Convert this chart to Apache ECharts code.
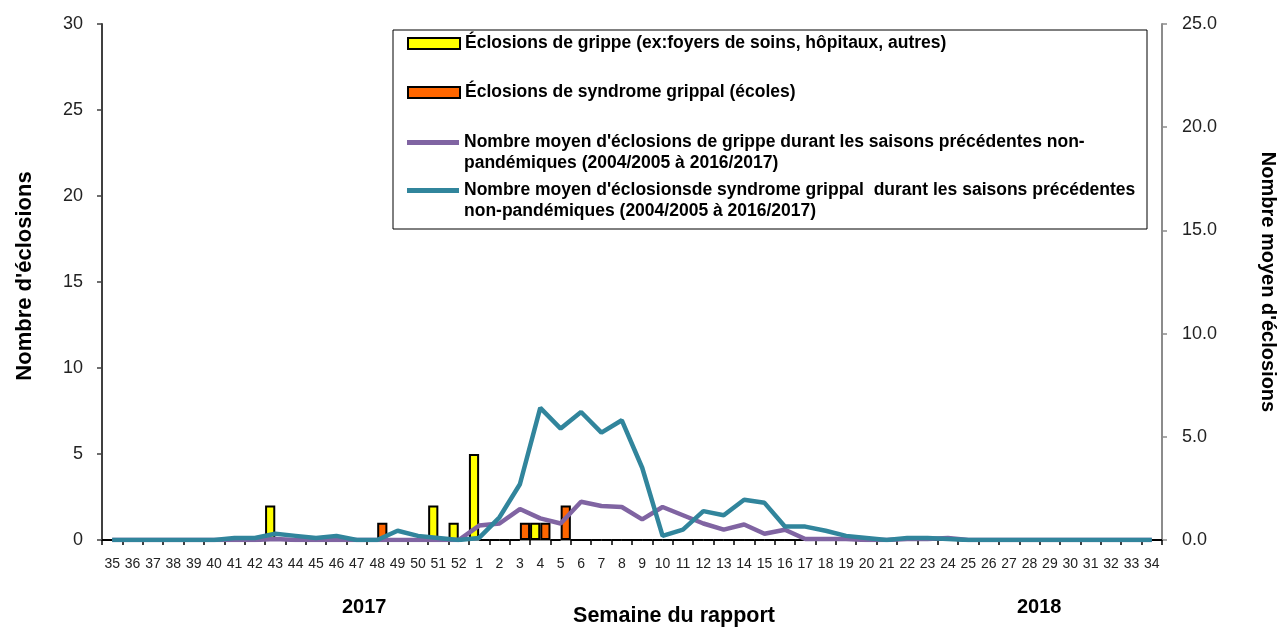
<!DOCTYPE html>
<html>
<head>
<meta charset="utf-8">
<script src="https://cdn.jsdelivr.net/npm/echarts@6/dist/echarts.min.js"></script>
<style>
html,body{margin:0;padding:0;background:#fff;}
#c{width:1283px;height:631px;}
</style>
</head>
<body>
<div id="c"></div>
<script>
var weeks = ['35','36','37','38','39','40','41','42','43','44','45','46','47','48','49','50','51','52',
  '1','2','3','4','5','6','7','8','9','10','11','12','13','14','15','16','17','18','19','20',
  '21','22','23','24','25','26','27','28','29','30','31','32','33','34'];
// Éclosions de grippe (bars, left axis)
var grippeBars = [0,0,0,0,0,0,0,0,2,0,0,0,0,0,0,0,2,1,
  5,0,0,1,0,0,0,0,0,0,0,0,0,0,0,0,0,0,0,0,
  0,0,0,0,0,0,0,0,0,0,0,0,0,0];
// Éclosions de syndrome grippal (bars, left axis)
var sgBars = [0,0,0,0,0,0,0,0,0,0,0,0,0,1,0,0,0,0,
  0,0,1,1,2,0,0,0,0,0,0,0,0,0,0,0,0,0,0,0,
  0,0,0,0,0,0,0,0,0,0,0,0,0,0];
// Moyenne grippe (line, right axis)
var grippeAvg = [0,0,0,0,0,0,0,0,0.05,0,0,0,0,0,0,0,0,0,
  0.7,0.8,1.5,1.05,0.8,1.85,1.65,1.6,1.0,1.6,1.2,0.8,0.5,0.75,0.3,0.5,0.05,0.05,0.05,0,
  0,0.05,0.05,0.1,0,0,0,0,0,0,0,0,0,0];
// Moyenne syndrome grippal (line, right axis)
var sgAvg = [0,0,0,0,0,0,0.1,0.1,0.3,0.2,0.1,0.2,0,0,0.45,0.2,0.1,0,
  0.1,1.1,2.7,6.4,5.4,6.2,5.2,5.8,3.5,0.2,0.5,1.4,1.2,1.95,1.8,0.65,0.65,0.45,0.2,0.1,
  0,0.1,0.1,0.05,0,0,0,0,0,0,0,0,0,0];
var leftTicks = [0,5,10,15,20,25,30];
var rightTicks = [0,5,10,15,20,25];

var names = [
  'Éclosions de grippe (ex:foyers de soins, hôpitaux, autres)',
  'Éclosions de syndrome grippal (écoles)',
  "Nombre moyen d'éclosions de grippe durant les saisons précédentes non-\npandémiques (2004/2005 à 2016/2017)",
  "Nombre moyen d'éclosionsde syndrome grippal  durant les saisons précédentes\nnon-pandémiques (2004/2005 à 2016/2017)"
];
var SANS = '"Liberation Sans", Arial, sans-serif';
var legTxt = {fontFamily: SANS, fontWeight: 'bold', fontSize: 17.5, color: '#000', lineHeight: 21};

function mkLegend(i, top) {
  return {
    data: [{name: names[i], icon: 'rect'}],
    orient: 'vertical', left: 407, top: top, padding: 0,
    itemWidth: 52, itemHeight: i < 2 ? 11 : 5, itemGap: 0,
    selectedMode: false, textStyle: legTxt,
    formatter: function (n) { return n.indexOf('\n') >= 0 ? ' \n' + n : n; }
  };
}

var chart = echarts.init(document.getElementById('c'), null, {renderer: 'canvas'});
chart.setOption({
  animation: false,
  backgroundColor: '#fff',
  grid: {left: 102, right: 121, top: 24, bottom: 91, containLabel: false, outerBoundsMode: 'none'},
  legend: [
    mkLegend(0, 33),
    mkLegend(1, 82),
    mkLegend(2, 111),
    mkLegend(3, 159)
  ],
  graphic: [
    {type: 'rect', shape: {x: 393, y: 30, width: 754, height: 199}, style: {fill: null, stroke: '#000', lineWidth: 1}, z: 1},
    {type: 'text', left: 342, top: 597, style: {text: '2017', font: 'bold 20px "Liberation Sans", sans-serif', fill: '#000'}},
    {type: 'text', left: 1017, top: 597, style: {text: '2018', font: 'bold 20px "Liberation Sans", sans-serif', fill: '#000'}}
  ],
  xAxis: [{
    type: 'category', data: weeks, boundaryGap: true,
    name: 'Semaine du rapport', nameLocation: 'middle', nameGap: 65,
    nameTextStyle: {fontFamily: SANS, fontWeight: 'bold', fontSize: 21.5, color: '#000', padding: [0, 0, 0, 84]},
    axisLine: {lineStyle: {color: '#000', width: 1.5}},
    axisTick: {show: true, interval: 0, length: 5, lineStyle: {color: '#000', width: 1.5}},
    axisLabel: {interval: 0, fontFamily: SANS, fontSize: 14, color: '#222', margin: 17}
  }, {
    type: 'category', data: weeks, position: 'top',
    axisLine: {lineStyle: {color: '#8c8c8c', width: 2}},
    axisTick: {show: false}, axisLabel: {show: false}
  }],
  yAxis: [{
    type: 'value', min: 0, max: 30, interval: 5, position: 'left',
    name: "Nombre d'éclosions", nameLocation: 'middle', nameGap: 66, nameRotate: 90,
    nameTextStyle: {fontFamily: SANS, fontWeight: 'bold', fontSize: 22, color: '#000', padding: [0, 0, 0, 12]},
    axisLine: {show: true, lineStyle: {color: '#404040', width: 2}},
    axisTick: {show: true, length: 5, lineStyle: {color: '#404040', width: 1.5}},
    axisLabel: {fontFamily: SANS, fontSize: 18, color: '#222', margin: 19,
      formatter: function (v) { return leftTicks.indexOf(v) >= 0 ? String(v) : ''; }},
    splitLine: {show: false}
  }, {
    type: 'value', min: 0, max: 25, interval: 5, position: 'right',
    name: "Nombre moyen d'éclosions", nameLocation: 'middle', nameGap: 96, nameRotate: -90,
    nameTextStyle: {fontFamily: SANS, fontWeight: 'bold', fontSize: 20, color: '#000'},
    axisLine: {show: true, lineStyle: {color: '#8c8c8c', width: 2}},
    axisTick: {show: true, length: 5, lineStyle: {color: '#8c8c8c', width: 1.5}},
    axisLabel: {fontFamily: SANS, fontSize: 18, color: '#222', margin: 20,
      formatter: function (v) { return rightTicks.indexOf(v) >= 0 ? v.toFixed(1) : ''; }},
    splitLine: {show: false}
  }],
  series: [{
    name: names[0], type: 'bar', data: grippeBars, yAxisIndex: 0,
    barGap: '0%', barCategoryGap: '0%',
    itemStyle: {color: '#FFFF00', borderColor: '#000', borderWidth: 2}
  }, {
    name: names[1], type: 'bar', data: sgBars, yAxisIndex: 0,
    barGap: '0%', barCategoryGap: '0%',
    itemStyle: {color: '#FF6600', borderColor: '#000', borderWidth: 2}
  }, {
    name: names[2], type: 'line', data: grippeAvg, yAxisIndex: 1, symbol: 'none', z: 3,
    lineStyle: {color: '#8064A2', width: 4.5}, itemStyle: {color: '#8064A2'}
  }, {
    name: names[3], type: 'line', data: sgAvg, yAxisIndex: 1, symbol: 'none', z: 4,
    lineStyle: {color: '#31859C', width: 4.5}, itemStyle: {color: '#31859C'}
  }]
});
</script>
</body>
</html>
